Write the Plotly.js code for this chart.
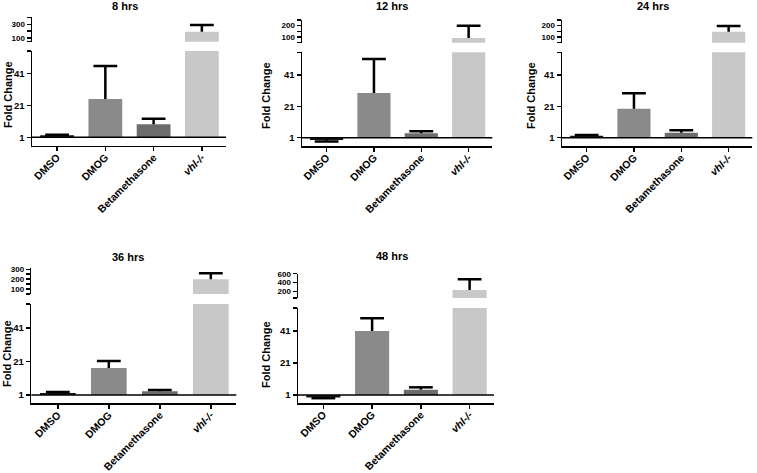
<!DOCTYPE html>
<html>
<head>
<meta charset="utf-8">
<script src="https://cdn.plot.ly/plotly-3.0.1.min.js"></script>
<style>html,body{margin:0;padding:0;background:#fff;}#chart{width:757px;height:473px;}</style>
</head>
<body>
<div id="chart"></div>
<script>
// ---- data ----
const categories = ['DMSO', 'DMOG', 'Betamethasone', 'vhl-/-'];
const categoryLabels = ['DMSO', 'DMOG', 'Betamethasone', '<i>vhl-/-</i>'];
const panelTitles = ['8 hrs', '12 hrs', '24 hrs', '36 hrs', '48 hrs'];
const values8h  = [2.2, 24.9, 9.1, 194];
const errors8h  = [0.4, 20.7, 3.5, 96];
const values12h = [-0.5, 29.6, 3.8, 91];
const errors12h = [0.9, 21.7, 1.3, 109];
const values24h = [2.2, 19.5, 4.2, 146];
const errors24h = [0.6, 9.9, 1.5, 51];
const values36h = [2.2, 17.1, 3.2, 200];
const errors36h = [0.5, 4.2, 0.8, 60];
const values48h = [-0.5, 41, 4.3, 230];
const errors48h = [0.5, 8, 1.5, 242];
const lowerTicks = [1, 21, 41];
const baseline = 1;

// ---- layout config (pixels) ----
const W = 757, H = 473;
const FONT = 'Liberation Sans, Arial, Helvetica, sans-serif';
const barColors = ['#151515', '#8a8a8a', '#6c6c6c', '#c8c8c8'];
const panels = [
  {vals: values8h,  errs: errors8h,  x: [32, 226],   low: [51, 145.7],  up: [17.3, 41.7], upRange: [50, 400], upTicks: [50,100,200,300,400], upLabels: ['','100','','300',''], lowRange: [-4.25, 54.9], title: [125, 6], ytitle: [8, 95]},
  {vals: values12h, errs: errors12h, x: [302, 492.3], low: [52.3, 146], up: [20, 42.7], upRange: [50, 250], upTicks: [50,100,150,200,250], upLabels: ['','100','','200',''], lowRange: [-4.3, 55.6], title: [392, 6], ytitle: [266, 96]},
  {vals: values24h, errs: errors24h, x: [562, 752.3], low: [52.3, 146], up: [20, 42.7], upRange: [50, 250], upTicks: [50,100,150,200,250], upLabels: ['','100','','200',''], lowRange: [-4.3, 55.6], title: [653, 6], ytitle: [531, 96]},
  {vals: values36h, errs: errors36h, x: [31.3, 236.3], low: [304, 403.3], up: [268.3, 294], upRange: [50, 310], upTicks: [50,100,150,200,250,300], upLabels: ['','100','','200','','300'], lowRange: [-4, 55.3], title: [128, 257], ytitle: [7, 354]},
  {vals: values48h, errs: errors48h, x: [298, 494],   low: [308, 403],  up: [273.7, 298], upRange: [50, 600], upTicks: [50,200,400,600], upLabels: ['','200','400','600'], lowRange: [-4, 55.4], title: [392, 256], ytitle: [266, 355]}
];

const fx = px => px / W;
const fy = py => 1 - py / H;

const data = [];
const layout = {
  width: W, height: H,
  margin: {l: 0, r: 0, t: 0, b: 0},
  paper_bgcolor: '#fff', plot_bgcolor: 'rgba(0,0,0,0)',
  showlegend: false,
  font: {family: FONT, color: '#000'},
  annotations: [], shapes: [],
  bargap: 0.3
};

function addSegment(cats, vals, errs, colors, xa, ya) {
  const heights = vals.map(v => v - baseline);
  const errUp = vals.map((v, k) => v >= baseline ? errs[k] : 0);
  const errDown = vals.map((v, k) => v < baseline ? errs[k] : 0);
  data.push({
    type: 'bar', x: cats, y: heights, base: baseline,
    xaxis: xa, yaxis: ya,
    marker: {color: colors, line: {width: 0}},
    error_y: {type: 'data', symmetric: false, array: errUp, arrayminus: errDown, color: '#000', thickness: 2.5, width: 0},
    hoverinfo: 'skip'
  });
  // error-bar caps at the outer end only
  data.push({
    type: 'scatter', mode: 'markers', x: cats,
    y: vals.map((v, k) => v >= baseline ? v + errs[k] : v - errs[k]),
    xaxis: xa, yaxis: ya, cliponaxis: true,
    marker: {symbol: 'line-ew', size: 17, color: '#000', line: {color: '#000', width: 2.5}},
    hoverinfo: 'skip'
  });
}

panels.forEach((p, i) => {
  const xa = 'x' + (i + 1);
  const ylo = 'y' + (2 * i + 1);
  const yup = 'y' + (2 * i + 2);
  // lower segment: every bar
  addSegment(categories, p.vals, p.errs, barColors, xa, ylo);
  // upper segment: the bars that break through the axis gap
  const keep = p.vals.map((v, k) => v > p.upRange[0] ? k : -1).filter(k => k >= 0);
  addSegment(keep.map(k => categories[k]), keep.map(k => p.vals[k]), keep.map(k => p.errs[k]), keep.map(k => barColors[k]), xa, yup);

  layout['xaxis' + (i === 0 ? '' : i + 1)] = {
    domain: [fx(p.x[0]), fx(p.x[1])], anchor: ylo,
    range: [-0.52, 3.5], type: 'category', categoryarray: categories, categoryorder: 'array',
    tickmode: 'array', tickvals: categories, ticktext: categoryLabels,
    tickangle: -45, ticks: 'outside', ticklen: 4, tickwidth: 1.5, tickcolor: '#000',
    ticklabelstandoff: -4,
    showline: true, linecolor: '#000', linewidth: 1.5,
    showgrid: false, zeroline: false, fixedrange: true,
    tickfont: {family: FONT, size: 10.5, color: '#000', weight: 'bold'}
  };
  layout['yaxis' + (2 * i + 1 === 1 ? '' : 2 * i + 1)] = {
    domain: [fy(p.low[1]), fy(p.low[0])], anchor: xa,
    range: p.lowRange,
    tickmode: 'array', tickvals: lowerTicks.concat([p.lowRange[1] - 0.05]),
    ticktext: lowerTicks.map(String).concat(['']),
    ticks: 'outside', ticklen: 4, tickwidth: 1.5, tickcolor: '#000',
    showline: true, linecolor: '#000', linewidth: 1.5,
    showgrid: false, zeroline: false, fixedrange: true,
    tickfont: {family: FONT, size: 9.5, color: '#000', weight: 'bold'}
  };
  layout['yaxis' + (2 * i + 2)] = {
    domain: [fy(p.up[1]), fy(p.up[0])], anchor: xa,
    range: p.upRange,
    tickmode: 'array', tickvals: p.upTicks, ticktext: p.upLabels,
    ticks: 'outside', ticklen: 4, tickwidth: 1.5, tickcolor: '#000',
    showline: true, linecolor: '#000', linewidth: 1.5,
    showgrid: false, zeroline: false, fixedrange: true,
    tickfont: {family: FONT, size: 8, color: '#000', weight: 'bold'}
  };
  // baseline at fold change = 1
  layout.shapes.push({
    type: 'line', xref: xa + ' domain', yref: ylo,
    x0: 0, x1: 1, y0: baseline, y1: baseline,
    line: {color: '#000', width: 1.5}
  });
  layout.annotations.push({
    text: '<b>' + panelTitles[i] + '</b>', xref: 'paper', yref: 'paper',
    x: fx(p.title[0]), y: fy(p.title[1]), xanchor: 'center', yanchor: 'middle',
    showarrow: false, font: {family: FONT, size: 11, color: '#000'}
  });
  layout.annotations.push({
    text: '<b>Fold Change</b>', xref: 'paper', yref: 'paper', textangle: -90,
    x: fx(p.ytitle[0]), y: fy(p.ytitle[1]), xanchor: 'center', yanchor: 'middle',
    showarrow: false, font: {family: FONT, size: 11, color: '#000'}
  });
});

Plotly.newPlot('chart', data, layout, {staticPlot: true, displayModeBar: false});
</script>
</body>
</html>
